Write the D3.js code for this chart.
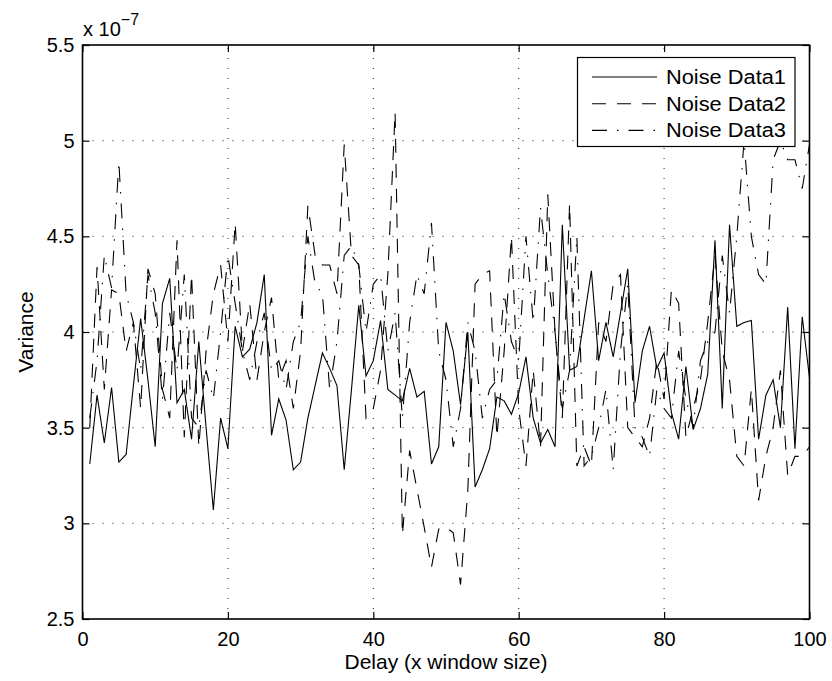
<!DOCTYPE html>
<html><head><meta charset="utf-8">
<script src="https://cdn.jsdelivr.net/npm/d3@7"></script>
<style>body{margin:0;background:#fff}svg{display:block}text{font-family:"Liberation Sans",Arial,Helvetica,sans-serif}</style>
</head><body>
<svg id="c" width="832" height="681"></svg>
<script>
const delays = [1,2,3,4,5,6,7,8,9,10,11,12,13,14,15,16,17,18,19,20,21,22,23,24,25,26,27,28,29,30,31,32,33,34,35,36,37,38,39,40,41,42,43,44,45,46,47,48,49,50,51,52,53,54,55,56,57,58,59,60,61,62,63,64,65,66,67,68,69,70,71,72,73,74,75,76,77,78,79,80,81,82,83,84,85,86,87,88,89,90,91,92,93,94,95,96,97,98,99,100];
const noise1 = [3.31,3.67,3.42,3.71,3.32,3.36,3.72,4.07,3.75,3.40,4.15,4.28,3.63,3.70,3.44,3.95,3.50,3.07,3.55,3.39,4.03,3.87,3.91,4.05,4.30,3.46,3.65,3.54,3.28,3.32,3.55,3.72,3.89,3.81,3.72,3.28,3.70,4.14,3.77,3.85,4.06,3.70,3.67,3.64,3.81,3.66,3.69,3.31,3.40,4.05,3.90,3.62,4.00,3.19,3.28,3.39,3.66,3.64,3.57,3.68,3.87,3.55,3.42,3.49,3.40,4.56,3.80,3.82,4.07,4.32,3.85,4.05,3.87,4.10,4.33,3.63,3.90,4.03,3.81,3.89,3.58,3.44,3.82,3.49,3.60,3.78,4.48,3.60,4.56,4.03,4.05,4.06,3.44,3.67,3.75,3.50,4.13,3.39,4.08,3.76];
const noise2 = [3.50,4.34,3.70,4.22,4.20,3.90,4.05,3.60,4.33,4.20,3.70,3.55,4.48,3.45,4.30,3.40,3.90,4.20,4.35,3.95,4.57,3.90,4.15,3.75,4.00,4.18,3.75,3.85,3.60,3.90,4.66,4.40,4.35,4.35,4.20,4.98,4.40,4.35,3.55,3.60,3.80,4.30,5.15,2.94,3.38,3.18,2.98,2.77,2.97,2.98,2.95,2.68,3.17,4.25,4.30,4.32,3.45,3.90,4.50,3.60,3.30,3.80,3.40,4.72,4.00,3.55,4.67,3.30,3.40,3.30,4.05,3.95,4.25,4.30,3.50,3.45,3.40,3.55,3.85,3.65,4.22,4.15,3.45,3.60,3.75,4.05,4.40,3.90,3.75,3.35,3.30,3.70,3.12,3.35,3.50,3.80,3.25,3.35,3.35,3.40];
const noise3 = [3.55,3.85,4.40,4.23,4.89,4.20,4.05,3.80,4.30,4.10,3.65,4.10,3.80,4.30,3.55,3.50,3.80,3.65,4.00,4.40,4.15,3.90,3.75,3.95,4.10,3.80,3.85,3.70,3.95,4.05,4.50,4.25,4.20,3.70,3.95,4.40,4.45,4.35,4.00,4.25,4.30,3.90,4.10,3.55,4.05,4.30,4.20,4.57,3.90,3.75,3.40,3.60,4.05,3.90,3.55,3.70,3.75,4.20,3.95,3.85,4.50,4.05,4.65,4.30,4.00,3.60,3.80,4.50,3.30,3.35,3.50,3.70,3.28,3.90,4.25,3.50,3.45,3.35,3.70,3.60,3.55,3.90,3.65,3.50,3.85,3.95,4.00,4.40,4.10,4.50,5.00,4.50,4.30,4.25,4.90,5.00,4.90,4.90,4.75,4.98];
const xTicks = [0,20,40,60,80,100];
const yTicks = [2.5,3,3.5,4,4.5,5,5.5];
const seriesNames = ["Noise Data1","Noise Data2","Noise Data3"];
const seriesDash = [null,"14,11","15,10,1.5,10"];

const svg = d3.select("#c");
const L=82.5,R=809.5,T=45,B=619;
const x = d3.scaleLinear().domain([0,100]).range([L,R]);
const y = d3.scaleLinear().domain([2.5,5.5]).range([B,T]);

// grid
const grid = svg.append("g").attr("stroke","#222").attr("stroke-width",1).attr("stroke-dasharray","1,9");
xTicks.slice(1,-1).forEach(t=>grid.append("line").attr("x1",x(t)).attr("x2",x(t)).attr("y1",B).attr("y2",T));
yTicks.slice(1,-1).forEach(t=>grid.append("line").attr("x1",L).attr("x2",R).attr("y1",y(t)).attr("y2",y(t)));

svg.append("clipPath").attr("id","clip").append("rect").attr("x",L).attr("y",T).attr("width",R-L).attr("height",B-T);
const line = d3.line().x((d,i)=>x(delays[i])).y(d=>y(d));
[noise1,noise2,noise3].forEach((s,k)=>{
  const p = svg.append("path").datum(s).attr("d",line).attr("fill","none").attr("stroke","#000")
    .attr("stroke-width",1.1).attr("clip-path","url(#clip)");
  if(seriesDash[k]) p.attr("stroke-dasharray",seriesDash[k]);
});

// axes
const fs = 20;
function styleAxis(g){g.select(".domain").remove();g.selectAll("line").attr("stroke","#000").attr("stroke-width",1.2);g.selectAll("text").attr("font-size",fs).attr("fill","#000").attr("font-family","Liberation Sans, Arial, sans-serif");}
svg.append("g").attr("transform",`translate(0,${B})`).call(d3.axisBottom(x).tickValues(xTicks).tickSizeInner(-7).tickSizeOuter(0).tickPadding(13).tickFormat(d=>String(d))).call(styleAxis);
svg.append("g").attr("transform",`translate(0,${T})`).call(d3.axisTop(x).tickValues(xTicks).tickSizeInner(-7).tickSizeOuter(0).tickFormat("")).call(styleAxis);
svg.append("g").attr("transform",`translate(${L},0)`).call(d3.axisLeft(y).tickValues(yTicks).tickSizeInner(-7).tickSizeOuter(0).tickPadding(8).tickFormat(d=>String(d))).call(styleAxis);
svg.append("g").attr("transform",`translate(${R},0)`).call(d3.axisRight(y).tickValues(yTicks).tickSizeInner(-7).tickSizeOuter(0).tickFormat("")).call(styleAxis);
svg.append("rect").attr("x",L).attr("y",T).attr("width",R-L).attr("height",B-T).attr("fill","none").attr("stroke","#000").attr("stroke-width",1.6);

// exponent
const ex = svg.append("text").attr("x",83).attr("y",36).attr("font-size",fs);
ex.append("tspan").text("x 10");
ex.append("tspan").attr("dy",-11).attr("font-size",16).text("\u22127");

// axis labels
svg.append("text").attr("x",(L+R)/2).attr("y",669).attr("text-anchor","middle").attr("font-size",21).text("Delay (x window size)");
svg.append("text").attr("transform",`translate(33,${(T+B)/2}) rotate(-90)`).attr("text-anchor","middle").attr("font-size",21).text("Variance");

// legend
const lg = svg.append("g");
lg.append("rect").attr("x",577.5).attr("y",57.5).attr("width",217.5).attr("height",89).attr("fill","#fff").attr("stroke","#000").attr("stroke-width",1.2);
seriesNames.forEach((n,k)=>{
  const yy = 77+k*26.7;
  const l = lg.append("line").attr("x1",592).attr("x2",657).attr("y1",yy).attr("y2",yy).attr("stroke","#000").attr("stroke-width",1.1);
  if(seriesDash[k]) l.attr("stroke-dasharray",seriesDash[k]);
  lg.append("text").attr("x",666).attr("y",yy+7).attr("font-size",20).attr("textLength",120).attr("lengthAdjust","spacingAndGlyphs").text(n);
});
</script>
</body></html>
